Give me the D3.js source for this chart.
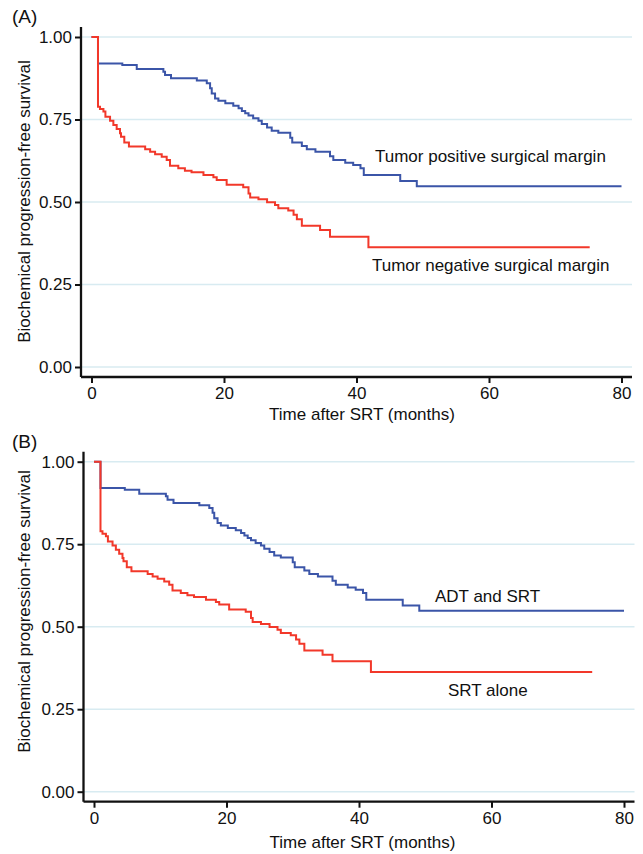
<!DOCTYPE html>
<html>
<head>
<meta charset="utf-8">
<script src="https://cdn.jsdelivr.net/npm/d3@7"></script>
<style>
  body { margin: 0; background: #fff; }
  text { font-family: "Liberation Sans", Arial, sans-serif; fill: #111; }
</style>
</head>
<body>
<div id="chart"></div>
<script>
// tick values
var timeTicks = [0, 20, 40, 60, 80];
var survTicks = [0, 0.25, 0.5, 0.75, 1];

// upper curve (blue): event times and survival after each step
var blueTimes = [0, 0.98, 4.65, 6.83, 10.85, 11.1, 12.0, 15.9, 17.4, 17.9, 18.15, 18.65, 19.15, 20.2,
                 21.4, 22.2, 22.7, 23.2, 23.7, 24.4, 25.2, 25.7, 26.5, 27.2, 28.2, 30.0, 30.3, 31.75,
                 32.5, 33.8, 36.0, 36.5, 38.3, 39.5, 40.6, 41.1, 46.6, 49.1];
var blueSurv  = [1, 0.920, 0.915, 0.903, 0.895, 0.885, 0.875, 0.868, 0.860, 0.845, 0.829, 0.814, 0.807, 0.799,
                 0.792, 0.784, 0.776, 0.769, 0.762, 0.754, 0.746, 0.736, 0.726, 0.716, 0.710, 0.695, 0.680, 0.670,
                 0.660, 0.652, 0.639, 0.627, 0.619, 0.612, 0.602, 0.582, 0.564, 0.548];
var blueEnd = 80;

// lower curve (red)
var redTimes = [0, 0.98, 1.28, 1.8, 2.1, 2.8, 3.3, 3.8, 4.3, 4.45, 4.95, 5.65, 8.1, 8.85, 9.6, 10.6,
                11.35, 11.85, 13.1, 14.1, 15.1, 16.9, 18.4, 18.9, 20.4, 22.9, 23.7, 23.95, 25.2, 26.5,
                27.7, 28.2, 29.7, 30.5, 31.0, 31.75, 34.5, 36.0, 41.8];
var redSurv  = [1, 0.789, 0.782, 0.774, 0.758, 0.746, 0.733, 0.721, 0.708, 0.698, 0.680, 0.668, 0.660, 0.652, 0.645, 0.637,
                0.627, 0.610, 0.602, 0.595, 0.590, 0.582, 0.575, 0.567, 0.552, 0.545, 0.526, 0.514, 0.508, 0.499,
                0.491, 0.481, 0.474, 0.461, 0.448, 0.428, 0.415, 0.395, 0.363];
var redEnd = 75.2;

var panelNames = ["(A)", "(B)"];
var panelALabels = ["Tumor positive surgical margin", "Tumor negative surgical margin"];
var panelBLabels = ["ADT and SRT", "SRT alone"];

var xTitle = "Time after SRT (months)";
var yTitle = "Biochemical progression-free survival";

var w = 643, h = 854;
var blue = "#3b55a8", red = "#f2382a";

var svg = d3.select("#chart").append("svg")
    .attr("width", w)
    .attr("height", h);

function steps(times, surv, end) {
    var pts = times.map(function(t, i) { return [t, surv[i]]; });
    pts.push([end, surv[surv.length - 1]]);
    return pts;
}

function drawPanel(p) {
    var x = d3.scaleLinear().domain([0, 80]).range([p.x0, p.x1]);
    var y = d3.scaleLinear().domain([0, 1]).range([p.y0, p.y1]);
    var pad = 10.5;
    var g = svg.append("g");

    // grid lines
    g.selectAll(".grid")
        .data(survTicks)
        .enter()
        .append("line")
        .attr("x1", p.x0 - pad)
        .attr("x2", p.x1 + pad)
        .attr("y1", function(d) { return y(d); })
        .attr("y2", function(d) { return y(d); })
        .attr("stroke", "#d8ebf1")
        .attr("stroke-width", 1.5);

    // y axis
    var yAxis = d3.axisLeft(y).tickValues(survTicks).tickSize(6).tickPadding(3)
        .tickFormat(d3.format(".2f"));
    var ya = g.append("g").attr("transform", "translate(" + (p.x0 - pad) + ",0)").call(yAxis);
    ya.select(".domain").remove();
    ya.selectAll("line").attr("stroke", "#111").attr("stroke-width", 2);
    ya.selectAll("text").style("font-size", "17px").attr("fill", "#111");
    g.append("line")
        .attr("x1", p.x0 - pad).attr("x2", p.x0 - pad)
        .attr("y1", p.y1 - 10).attr("y2", p.y0 + 10)
        .attr("stroke", "#111").attr("stroke-width", 2.3);

    // x axis
    var xAxis = d3.axisBottom(x).tickValues(timeTicks).tickSize(6).tickPadding(4);
    var xa = g.append("g").attr("transform", "translate(0," + (p.y0 + 10) + ")").call(xAxis);
    xa.select(".domain").remove();
    xa.selectAll("line").attr("stroke", "#111").attr("stroke-width", 2);
    xa.selectAll("text").style("font-size", "17px").attr("fill", "#111");
    g.append("line")
        .attr("x1", p.x0 - pad).attr("x2", p.x1 + pad)
        .attr("y1", p.y0 + 10).attr("y2", p.y0 + 10)
        .attr("stroke", "#111").attr("stroke-width", 2.3);

    var line = d3.line()
        .x(function(d) { return x(d[0]); })
        .y(function(d) { return y(d[1]); })
        .curve(d3.curveStepAfter);

    g.append("path")
        .datum(steps(blueTimes, blueSurv, blueEnd))
        .attr("d", line)
        .attr("fill", "none")
        .attr("stroke", blue)
        .attr("stroke-width", 2);

    g.append("path")
        .datum(steps(redTimes, redSurv, redEnd))
        .attr("d", line)
        .attr("fill", "none")
        .attr("stroke", red)
        .attr("stroke-width", 2);

    // curve labels
    g.append("text").attr("x", p.lab1[0]).attr("y", p.lab1[1])
        .style("font-size", "17px").text(p.labels[0]);
    g.append("text").attr("x", p.lab2[0]).attr("y", p.lab2[1])
        .style("font-size", "17px").text(p.labels[1]);

    // titles
    g.append("text")
        .attr("x", p.xTitle[0]).attr("y", p.xTitle[1])
        .attr("text-anchor", "middle")
        .style("font-size", "17px")
        .text(xTitle);
    g.append("text")
        .attr("transform", "translate(" + p.yTitle[0] + "," + p.yTitle[1] + ") rotate(-90)")
        .attr("text-anchor", "middle")
        .style("font-size", "17px")
        .text(yTitle);

    g.append("text")
        .attr("x", 12).attr("y", p.nameY)
        .style("font-size", "19px")
        .text(p.name);
}

drawPanel({
    name: panelNames[0], nameY: 23,
    x0: 91.5, x1: 621.5, y0: 367, y1: 37,
    labels: panelALabels,
    lab1: [375, 162], lab2: [372, 270.5],
    xTitle: [362, 420], yTitle: [29.5, 201.5]
});

drawPanel({
    name: panelNames[1], nameY: 448,
    x0: 94, x1: 624, y0: 791.7, y1: 461.7,
    labels: panelBLabels,
    lab1: [435, 602], lab2: [448, 695.5],
    xTitle: [362.5, 848], yTitle: [30, 611.5]
});
</script>
</body>
</html>
